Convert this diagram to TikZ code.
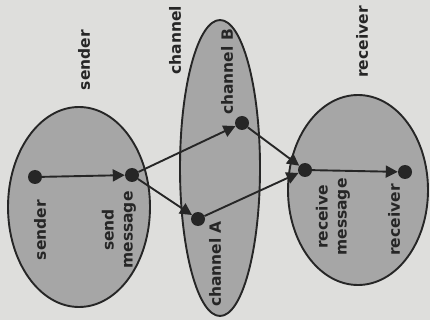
\documentclass[tikz,border=0pt]{standalone}
\usepackage{fontspec}
\setmainfont{DejaVu Sans}
\usetikzlibrary{arrows.meta}
\definecolor{paper}{HTML}{DEDEDC}
\definecolor{blob}{HTML}{A6A6A6}
\definecolor{ink}{HTML}{262626}
\tikzset{
  region/.style={draw=ink, fill=blob, line width=1.9pt},
  dot/.style={circle, fill=ink, inner sep=0pt, minimum size=14pt},
  flow/.style={draw=ink, line width=1.9pt, -{Triangle[length=12pt,width=12pt]}},
  lbl/.style={rotate=90, font=\bfseries\fontsize{15.5}{19}\selectfont, text=ink, align=center, inner sep=0pt}
}
\begin{document}
\begin{tikzpicture}[x=1pt,y=-1pt]
\fill[paper] (0,0) rectangle (430,320);
\useasboundingbox (0,0) rectangle (430,320);
% regions
\draw[region] (79,207) ellipse [x radius=71, y radius=100];
\draw[region] (220,168) ellipse [x radius=40, y radius=148];
\draw[region] (358,190) ellipse [x radius=70, y radius=95];
% headings
\node[lbl] (hs) at (84,60) {sender};
\node[lbl] (hc) at (175,40) {channel};
\node[lbl] (hr) at (362,42) {receiver};
% inner labels
\node[lbl] (ls) at (40,230) {sender};
\node[lbl] (lsm) at (119,230) {send\\message};
\node[lbl] (lca) at (215,264) {channel A};
\node[lbl] (lcb) at (227,72) {channel B};
\node[lbl] (lrm) at (333,217) {receive\\message};
\node[lbl] (lr) at (394,220) {receiver};
% dots
\node[dot] (s) at (35,177) {};
\node[dot] (sm) at (132,175) {};
\node[dot] (ca) at (198,219) {};
\node[dot] (cb) at (242,123) {};
\node[dot] (rm) at (305,170) {};
\node[dot] (r) at (405,172) {};
% flows
\draw[flow] (s) -- (sm);
\draw[flow] (sm) -- (ca);
\draw[flow] (sm) -- (cb);
\draw[flow] (ca) -- (rm);
\draw[flow] (cb) -- (rm);
\draw[flow] (rm) -- (r);
\end{tikzpicture}
\end{document}
